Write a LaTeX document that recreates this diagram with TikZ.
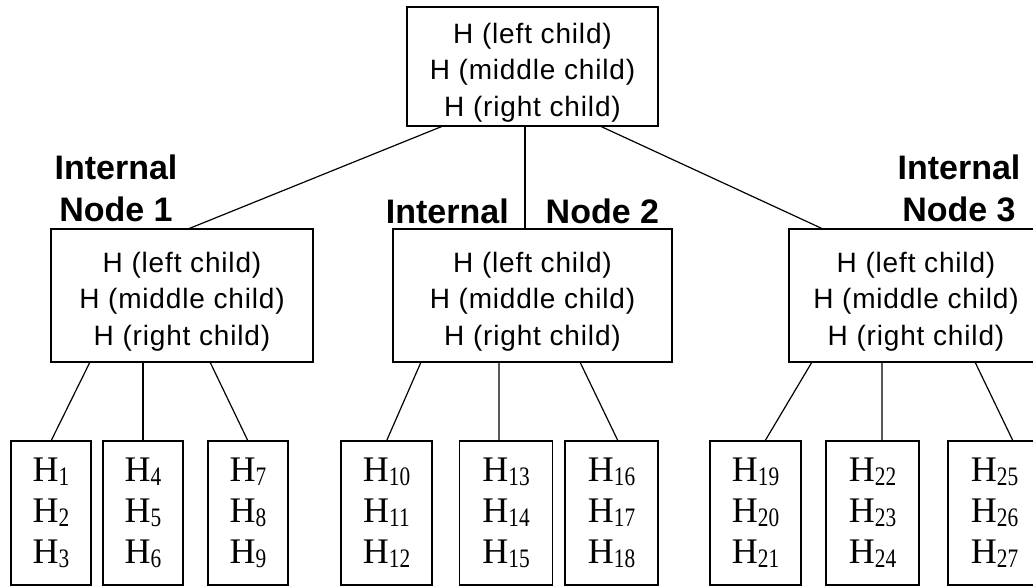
\documentclass[tikz,border=0pt]{standalone}
\usepackage{fontspec}
\setmainfont{Liberation Serif}
\newfontfamily\hashfont[LetterSpace=3]{Liberation Sans}
\newfontfamily\lblfont{Liberation Sans}
\newcommand{\hsub}[1]{H\raisebox{-3pt}{\scalebox{0.8}[1]{\fontsize{20}{20}\selectfont #1}}}
\tikzset{
  hashbox/.style={draw, line width=1.2pt, inner sep=0pt, outer sep=0pt, align=center,
    font=\hashfont\fontsize{21}{27.4}\selectfont},
  leafbox/.style={draw, line width=1.2pt, inner sep=0pt, outer sep=0pt, minimum height=108pt,
    align=center, font=\fontsize{27}{30.75}\selectfont},
  lbl/.style={align=center, inner sep=0pt, font=\lblfont\bfseries\fontsize{25.5}{31.5}\selectfont},
  conn/.style={line width=0.9pt}
}
\begin{document}
\begin{tikzpicture}[x=0.75pt,y=0.75pt,yscale=-1,xscale=1]
\useasboundingbox [fill=white] (0,0) rectangle (1033,588);

% Root box
\node [hashbox, minimum width=188.25pt, minimum height=89.25pt] (root) at (532.5,66.5) {\rule{0pt}{24pt}H (left child)\\H (middle child)\\H (right child)};

% Internal boxes
\node [hashbox, minimum width=196.5pt, minimum height=99.75pt] (in1) at (182,295.5) {\rule{0pt}{24pt}H (left child)\\H (middle child)\\H (right child)};
\node [hashbox, minimum width=209.25pt, minimum height=99.75pt] (in2) at (532.5,295.5) {\rule{0pt}{24pt}H (left child)\\H (middle child)\\H (right child)};
\node [hashbox, minimum width=190.5pt, minimum height=99.75pt] (in3) at (916,295.5) {\rule{0pt}{24pt}H (left child)\\H (middle child)\\H (right child)};

% Text Node
\node [lbl] (lbl1) at (116,188.5) {Internal\\Node 1};
% Text Node
\node [lbl] (lbl2) at (522.5,211.5) {Internal\hspace{27.75pt}Node 2};
% Text Node
\node [lbl] (lbl3) at (959,188.5) {Internal\\Node 3};

% Leaf boxes
\node [leafbox, minimum width=60pt] (h1) at (51,513) {\hsub{1}\\\hsub{2}\\\hsub{3}};
\node [leafbox, minimum width=60pt] (h2) at (143,513) {\hsub{4}\\\hsub{5}\\\hsub{6}};
\node [leafbox, minimum width=60pt] (h3) at (248,513) {\hsub{7}\\\hsub{8}\\\hsub{9}};
\node [leafbox, minimum width=68.25pt] (h4) at (386.5,513) {\hsub{10}\\\hsub{11}\\\hsub{12}};
\node [leafbox, minimum width=69.75pt] (h5) at (506,513) {\hsub{13}\\\hsub{14}\\\hsub{15}};
\node [leafbox, minimum width=69.75pt] (h6) at (611.5,513) {\hsub{16}\\\hsub{17}\\\hsub{18}};
\node [leafbox, minimum width=68.25pt] (h7) at (755.5,513) {\hsub{19}\\\hsub{20}\\\hsub{21}};
\node [leafbox, minimum width=69.75pt] (h8) at (872.5,513) {\hsub{22}\\\hsub{23}\\\hsub{24}};
\node [leafbox, minimum width=69.75pt] (h9) at (994.5,513) {\hsub{25}\\\hsub{26}\\\hsub{27}};

%Straight Lines
\draw [conn] ([xshift=-67.1pt]root.south) -- ([xshift=4.5pt]in1.north);
\draw [conn] ([xshift=-5.6pt]root.south) -- ([xshift=-5.6pt]in2.north);
\draw [conn] ([xshift=50.6pt]root.south) -- ([xshift=-69.75pt]in3.north);

%Straight Lines
\draw [conn] ([xshift=-69pt]in1.south) -- (h1.north);
\draw [conn] (h2.north |- in1.south) -- (h2.north);
\draw [conn] ([xshift=21pt]in1.south) -- (h3.north);
\draw [conn] ([xshift=-83.6pt]in2.south) -- (h4.north);
\draw [conn] ([xshift=-25.1pt]in2.south) -- ([xshift=-5.25pt]h5.north);
\draw [conn] ([xshift=35.6pt]in2.south) -- ([xshift=4.9pt]h6.north);
\draw [conn] ([xshift=-78pt]in3.south) -- ([xshift=7.1pt]h7.north);
\draw [conn] ([xshift=-25.5pt]in3.south) -- ([xshift=7.1pt]h8.north);
\draw [conn] ([xshift=44.25pt]in3.south) -- ([xshift=13.9pt]h9.north);

\end{tikzpicture}
\end{document}
